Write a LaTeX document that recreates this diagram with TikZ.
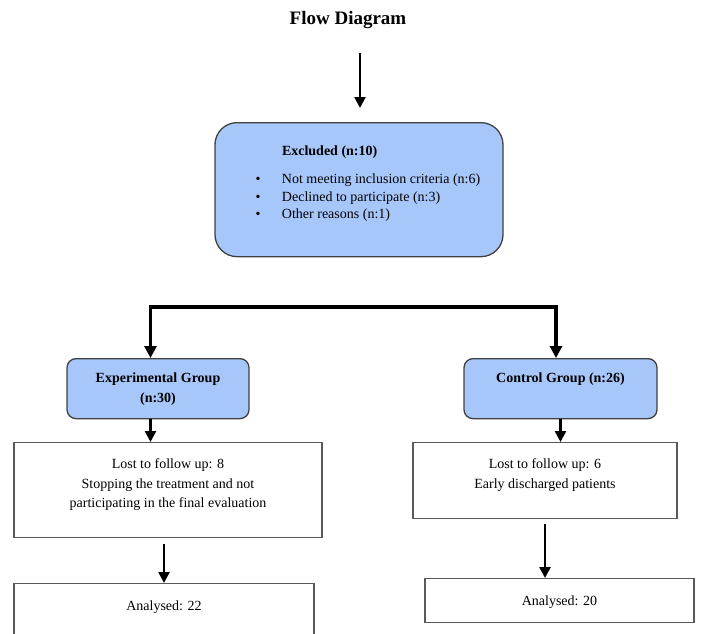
\documentclass[tikz,border=0pt]{standalone}
\usepackage{fontspec}
\setmainfont{Liberation Serif}
\usetikzlibrary{arrows.meta}
\definecolor{boxblue}{RGB}{167,199,250}
\tikzstyle{bluebox}=[draw=black!75, fill=boxblue, line width=1.3pt, rounded corners=9pt, inner xsep=0pt, inner ysep=0pt, align=center, font=\fontsize{14}{20}\selectfont\bfseries]
\tikzstyle{whitebox}=[draw=black!65, fill=white, line width=1.3pt, inner xsep=0pt, inner ysep=0pt, align=center, font=\fontsize{14}{19.5}\selectfont]
\tikzstyle{arr}=[-{Triangle[length=11pt,width=11pt]}, line width=2pt]

\begin{document}
\begin{tikzpicture}[x=1pt,y=1pt]
\useasboundingbox (0,0) rectangle (701,-634);
\node[font=\fontsize{19}{23}\selectfont\bfseries, anchor=base] (title) at (348,-25) {Flow Diagram};
\coordinate (topA) at (360,-53);
\coordinate (brL) at (150.5,-307);
\coordinate (brR) at (556,-307);

\node[bluebox, anchor=north, minimum width=288pt, rounded corners=22pt, text height=33pt, text depth=101pt, font=\fontsize{14}{17.5}\selectfont] (excl) at (359,-122)
  {\makebox[207pt][l]{\begin{tabular}[t]{@{}l@{\hspace{21.6pt}}l@{}}
    & \textbf{Excluded (n:10)}\\[10.5pt]
    \textbullet & Not meeting inclusion criteria (n:6)\\
    \textbullet & Declined to participate (n:3)\\
    \textbullet & Other reasons (n:1)
  \end{tabular}}};

\node[bluebox, anchor=north, minimum width=182pt, text height=44pt, text depth=16pt] (expg) at (158,-358) {Experimental Group\\(n:30)};
\node[bluebox, anchor=north, minimum width=193pt, text height=24pt, text depth=36pt] (ctrlg) at (560.5,-358) {Control Group (n:26)};

\node[whitebox, anchor=north, minimum width=308pt, text height=65pt, text depth=30pt] (lostE) at (168,-442) {Lost to follow up: 8\\Stopping the treatment and not\\participating in the final evaluation};
\node[whitebox, anchor=north, minimum width=264pt, text height=45.5pt, text depth=30.5pt] (lostC) at (545,-442) {Lost to follow up: 6\\Early discharged patients};

\node[whitebox, anchor=north, minimum width=300pt, text height=27pt, text depth=45pt] (analE) at (164,-583) {Analysed: 22};
\node[whitebox, anchor=north, minimum width=269pt, text height=27pt, text depth=17pt] (analC) at (559.5,-578) {Analysed: 20};

% arrows
\draw[arr, shorten >=14pt] (topA) -- (topA |- excl.north);
\draw[{Triangle[length=12pt,width=12pt]}-{Triangle[length=12pt,width=12pt]}, line width=3.5pt] (brL |- expg.north) -- (brL) -- (brR) -- (brR |- ctrlg.north);
\draw[arr, line width=2.5pt] (expg.south -| brL) -- (lostE.north -| brL);
\draw[arr, line width=2.5pt] (ctrlg.south) -- (ctrlg.south |- lostC.north);
\draw[arr, line width=2.5pt, shorten <=6pt] (analE.north |- lostE.south) -- (analE.north);
\draw[arr, line width=2.5pt, shorten <=5pt] (lostC.south) -- (lostC.south |- analC.north);
\end{tikzpicture}
\end{document}
